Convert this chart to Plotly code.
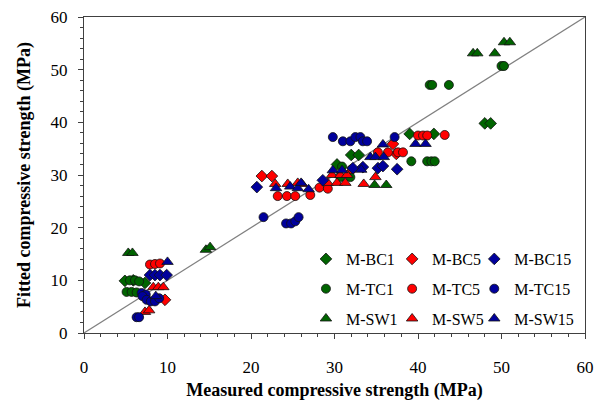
import plotly.graph_objects as go

# ---- data (measured, fitted) ----
bc1_x = [4.9, 5.9, 7.3, 30.3, 32.0, 32.9, 39.0, 41.9, 48.0, 48.7]
bc1_y = [9.9, 10.0, 9.5, 32.0, 33.8, 33.8, 37.8, 37.8, 39.8, 39.8]

tc1_x = [5.5, 6.1, 6.6, 5.1, 5.7, 6.3, 30.9, 30.7, 31.9, 39.2, 41.1, 41.6, 42.0, 41.4, 41.7, 43.7, 50.0, 50.3]
tc1_y = [10.0, 10.0, 9.8, 7.8, 7.8, 7.7, 31.6, 29.6, 29.6, 32.6, 32.6, 32.6, 32.6, 47.1, 47.1, 47.1, 50.7, 50.7]

sw1_x = [5.3, 5.8, 14.6, 15.1, 34.8, 36.2, 46.6, 47.1, 49.2, 50.3, 51.0]
sw1_y = [15.2, 15.2, 15.8, 16.3, 28.1, 28.1, 53.1, 53.1, 53.1, 55.2, 55.2]

bc5_x = [9.7, 21.3, 22.5, 37.0, 37.4]
bc5_y = [6.3, 29.8, 29.8, 35.9, 34.0]

tc5_x = [7.9, 8.5, 9.1, 23.2, 24.3, 25.3, 27.1, 28.2, 29.2, 32.1, 35.2, 36.4, 37.6, 38.2, 40.0, 40.6, 41.1, 43.2]
tc5_y = [13.0, 13.1, 13.2, 26.0, 26.0, 26.0, 26.2, 27.6, 27.4, 31.1, 34.3, 34.3, 34.3, 34.3, 37.5, 37.5, 37.5, 37.6]

sw5_x = [7.3, 7.8, 8.3, 8.9, 9.5, 22.9, 24.4, 25.6, 26.1, 29.7, 30.7, 31.5, 29.2, 30.3, 31.3, 33.5, 34.9]
sw5_y = [4.0, 4.3, 8.7, 8.7, 8.7, 28.3, 28.3, 28.5, 28.3, 30.0, 30.0, 30.0, 28.5, 28.5, 28.5, 28.3, 29.6]

bc15_x = [7.9, 8.5, 9.1, 9.9, 20.7, 28.6, 32.2, 33.4, 35.2, 35.8, 37.5]
bc15_y = [11.0, 11.0, 11.0, 11.0, 27.7, 29.0, 31.3, 31.5, 31.3, 31.7, 31.1]

tc15_x = [6.3, 6.6, 6.9, 7.4, 7.0, 7.5, 8.0, 8.5, 9.0, 21.5, 24.2, 24.8, 25.3, 25.7,
          29.8, 31.0, 31.9, 32.5, 33.1, 33.4, 33.9, 37.2]
tc15_y = [3.0, 3.0, 7.6, 7.3, 7.0, 6.3, 6.0, 6.0, 6.6, 22.0, 20.8, 20.8, 21.2, 22.0,
          37.2, 36.4, 36.4, 37.2, 37.2, 36.4, 36.4, 37.2]

sw15_x = [10.0, 8.6, 23.0, 24.7, 25.6, 26.0, 26.9, 29.8, 30.9, 33.2, 34.3, 34.9, 35.9, 35.8, 39.7, 40.9]
sw15_y = [13.5, 7.0, 27.5, 27.8, 27.5, 28.5, 27.3, 30.9, 30.9, 31.0, 33.4, 33.4, 33.4, 35.8, 35.9, 35.9]

axis_range = [0, 60]

FONT = "Liberation Serif"
GREEN = "#006400"
RED = "#ff0000"
BLUE = "#00009c"

series = [
    ("M-BC1", bc1_x, bc1_y, GREEN, "diamond", 9, "legend"),
    ("M-TC1", tc1_x, tc1_y, GREEN, "circle", 9, "legend"),
    ("M-SW1", sw1_x, sw1_y, GREEN, "triangle-up", 10, "legend"),
    ("M-BC5", bc5_x, bc5_y, RED, "diamond", 9, "legend2"),
    ("M-TC5", tc5_x, tc5_y, RED, "circle", 9, "legend2"),
    ("M-SW5", sw5_x, sw5_y, RED, "triangle-up", 10, "legend2"),
    ("M-BC15", bc15_x, bc15_y, BLUE, "diamond", 9, "legend3"),
    ("M-TC15", tc15_x, tc15_y, BLUE, "circle", 9, "legend3"),
    ("M-SW15", sw15_x, sw15_y, BLUE, "triangle-up", 10, "legend3"),
]

fig = go.Figure()
fig.add_trace(go.Scatter(x=axis_range, y=axis_range, mode="lines",
                         line=dict(color="#808080", width=1.2),
                         showlegend=False, hoverinfo="skip"))
for name, xs, ys, col, sym, sz, lg in series:
    fig.add_trace(go.Scatter(
        x=xs, y=ys, mode="markers", name=name, legend=lg, legendgroup=name,
        marker=dict(symbol=sym, size=sz, color=col, line=dict(color="#111111", width=0.8)),
    ))

legend_common = dict(font=dict(family=FONT, size=16, color="black"),
                     bgcolor="rgba(0,0,0,0)", borderwidth=0, tracegroupgap=6,
                     itemwidth=30, yanchor="top", xanchor="left")
y_leg = 0.288
fig.update_layout(
    width=597, height=401,
    margin=dict(l=84, r=12, t=17, b=68),
    paper_bgcolor="white", plot_bgcolor="white",
    font=dict(family=FONT, color="black"),
    legend=dict(x=0.443, y=y_leg, **legend_common),
    legend2=dict(x=0.615, y=y_leg, **legend_common),
    legend3=dict(x=0.779, y=y_leg, **legend_common),
    xaxis=dict(range=axis_range, dtick=10, ticks="outside", ticklen=5, tickcolor="#404040",
               minor=dict(dtick=2, ticks="outside", ticklen=3, tickcolor="#404040"),
               showline=True, linecolor="#404040", linewidth=1, mirror=True,
               showgrid=False, zeroline=False, automargin=False,
               tickfont=dict(family=FONT, size=17, color="black"), ticklabelstandoff=14,
               title=dict(text="<b>Measured compressive strength (MPa)</b>",
                          font=dict(family=FONT, size=18, color="black"), standoff=8)),
    yaxis=dict(range=axis_range, dtick=10, ticks="outside", ticklen=5, tickcolor="#404040",
               minor=dict(dtick=2, ticks="outside", ticklen=3, tickcolor="#404040"),
               showline=True, linecolor="#404040", linewidth=1, mirror=True,
               showgrid=False, zeroline=False, automargin=False,
               tickfont=dict(family=FONT, size=17, color="black"), ticklabelstandoff=7,
               title=dict(text="<b>Fitted compressive strength (MPa)</b>",
                          font=dict(family=FONT, size=18, color="black"), standoff=15)),
)
fig.write_html("out.html")
